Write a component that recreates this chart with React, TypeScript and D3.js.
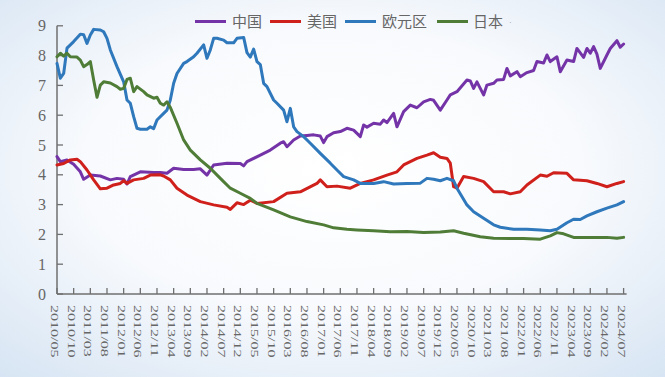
import React from "react";
import * as d3 from "d3";

const yTicks = [0, 1, 2, 3, 4, 5, 6, 7, 8, 9];
const xTickLabels = [
  "2010/05", "2010/10", "2011/03", "2011/08", "2012/01", "2012/06", "2012/11",
  "2013/04", "2013/09", "2014/02", "2014/07", "2014/12", "2015/05", "2015/10",
  "2016/03", "2016/08", "2017/01", "2017/06", "2017/11", "2018/04", "2018/09",
  "2019/02", "2019/07", "2019/12", "2020/05", "2020/10", "2021/03", "2021/08",
  "2022/01", "2022/06", "2022/11", "2023/04", "2023/09", "2024/02", "2024/07",
];

const seriesNames = ["中国", "美国", "欧元区", "日本"];
const seriesColors = ["#7434a8", "#d0201b", "#2e78bb", "#4f7d37"];

const chinaSeries: [string, number][] = [
  ["2010/05", 4.61], ["2010/06", 4.44], ["2010/08", 4.5], ["2010/10", 4.35], ["2010/12", 4.1],
  ["2011/01", 3.85], ["2011/03", 3.99], ["2011/06", 3.96], ["2011/09", 3.83], ["2011/11", 3.88],
  ["2012/01", 3.85], ["2012/02", 3.69], ["2012/03", 3.94], ["2012/06", 4.1], ["2012/10", 4.08],
  ["2012/12", 4.08], ["2013/02", 4.05], ["2013/04", 4.22], ["2013/07", 4.18], ["2013/10", 4.18],
  ["2013/12", 4.2], ["2014/02", 3.99], ["2014/04", 4.33], ["2014/08", 4.39], ["2014/12", 4.38],
  ["2015/01", 4.3], ["2015/02", 4.44], ["2015/06", 4.66], ["2015/09", 4.83], ["2015/12", 5.06],
  ["2016/01", 5.11], ["2016/02", 4.94], ["2016/04", 5.17], ["2016/06", 5.3], ["2016/08", 5.32],
  ["2016/10", 5.34], ["2016/12", 5.3], ["2017/01", 5.08], ["2017/02", 5.28], ["2017/04", 5.41],
  ["2017/06", 5.45], ["2017/08", 5.56], ["2017/10", 5.5], ["2017/12", 5.28], ["2018/01", 5.67],
  ["2018/02", 5.6], ["2018/04", 5.73], ["2018/06", 5.7], ["2018/07", 5.84], ["2018/08", 5.75],
  ["2018/10", 6.06], ["2018/11", 5.61], ["2019/01", 6.12], ["2019/03", 6.34], ["2019/05", 6.25],
  ["2019/07", 6.45], ["2019/09", 6.53], ["2019/10", 6.5], ["2019/12", 6.17], ["2020/02", 6.51],
  ["2020/03", 6.68], ["2020/05", 6.79], ["2020/08", 7.18], ["2020/09", 7.15], ["2020/10", 6.9],
  ["2020/11", 7.12], ["2021/01", 6.68], ["2021/02", 7.01], ["2021/04", 7.07], ["2021/05", 7.18],
  ["2021/07", 7.2], ["2021/08", 7.57], ["2021/09", 7.32], ["2021/11", 7.46], ["2021/12", 7.29],
  ["2022/02", 7.43], ["2022/04", 7.5], ["2022/05", 7.8], ["2022/07", 7.75], ["2022/08", 8.02],
  ["2022/09", 7.8], ["2022/11", 7.96], ["2022/12", 7.46], ["2023/02", 7.85], ["2023/04", 7.8],
  ["2023/05", 8.24], ["2023/07", 7.94], ["2023/08", 8.24], ["2023/09", 8.08], ["2023/10", 8.3],
  ["2023/11", 8.05], ["2023/12", 7.57], ["2024/02", 8.02], ["2024/03", 8.24], ["2024/05", 8.5],
  ["2024/06", 8.28], ["2024/07", 8.39],
];

const usSeries: [string, number][] = [
  ["2010/05", 4.33], ["2010/07", 4.38], ["2010/09", 4.5], ["2010/11", 4.52], ["2010/12", 4.44],
  ["2011/02", 4.16], ["2011/04", 3.83], ["2011/06", 3.53], ["2011/08", 3.55], ["2011/10", 3.66],
  ["2011/12", 3.71], ["2012/01", 3.8], ["2012/02", 3.71], ["2012/04", 3.83], ["2012/07", 3.88],
  ["2012/09", 3.99], ["2012/12", 4.0], ["2013/01", 3.96], ["2013/03", 3.83], ["2013/05", 3.55],
  ["2013/08", 3.32], ["2013/12", 3.1], ["2014/04", 2.99], ["2014/08", 2.91], ["2014/09", 2.84],
  ["2014/11", 3.06], ["2015/01", 3.0], ["2015/03", 3.15], ["2015/05", 3.04], ["2015/10", 3.1],
  ["2016/02", 3.38], ["2016/06", 3.43], ["2016/11", 3.71], ["2016/12", 3.83], ["2017/02", 3.6],
  ["2017/05", 3.62], ["2017/09", 3.55], ["2017/12", 3.71], ["2018/04", 3.83], ["2018/08", 3.99],
  ["2018/11", 4.1], ["2019/01", 4.33], ["2019/05", 4.55], ["2019/08", 4.66], ["2019/10", 4.74],
  ["2019/12", 4.59], ["2020/02", 4.55], ["2020/03", 4.39], ["2020/04", 3.6], ["2020/05", 3.55],
  ["2020/07", 3.94], ["2020/10", 3.88], ["2021/01", 3.77], ["2021/04", 3.43], ["2021/07", 3.43],
  ["2021/09", 3.36], ["2021/12", 3.43], ["2022/02", 3.66], ["2022/06", 3.99], ["2022/08", 3.95],
  ["2022/10", 4.07], ["2023/02", 4.05], ["2023/04", 3.83], ["2023/08", 3.8], ["2023/11", 3.71],
  ["2024/02", 3.6], ["2024/05", 3.71], ["2024/07", 3.77],
];

const euroSeries: [string, number][] = [
  ["2010/05", 7.74], ["2010/06", 7.24], ["2010/07", 7.4], ["2010/08", 8.25], ["2010/10", 8.47],
  ["2010/12", 8.72], ["2011/01", 8.7], ["2011/02", 8.41], ["2011/03", 8.69], ["2011/04", 8.88],
  ["2011/06", 8.86], ["2011/07", 8.8], ["2011/08", 8.58], ["2011/09", 8.19], ["2011/11", 7.63],
  ["2012/01", 7.12], ["2012/02", 6.51], ["2012/03", 6.4], ["2012/04", 5.95], ["2012/05", 5.56],
  ["2012/06", 5.53], ["2012/08", 5.53], ["2012/09", 5.61], ["2012/10", 5.55], ["2012/11", 5.84],
  ["2013/01", 6.06], ["2013/02", 6.17], ["2013/03", 6.51], ["2013/04", 7.07], ["2013/05", 7.4],
  ["2013/07", 7.74], ["2013/08", 7.8], ["2013/10", 7.96], ["2013/11", 8.08], ["2014/01", 8.36],
  ["2014/02", 7.91], ["2014/03", 8.19], ["2014/04", 8.58], ["2014/05", 8.58], ["2014/07", 8.52],
  ["2014/08", 8.43], ["2014/10", 8.43], ["2014/11", 8.58], ["2015/01", 8.61], ["2015/02", 8.1],
  ["2015/03", 7.95], ["2015/04", 8.22], ["2015/05", 7.8], ["2015/06", 7.7], ["2015/07", 7.07],
  ["2015/08", 6.96], ["2015/10", 6.51], ["2015/11", 6.4], ["2016/01", 6.17], ["2016/02", 5.78],
  ["2016/03", 6.23], ["2016/04", 5.61], ["2016/05", 5.45], ["2016/07", 5.28], ["2016/09", 5.06],
  ["2016/12", 4.72], ["2017/03", 4.39], ["2017/05", 4.16], ["2017/07", 3.94], ["2017/10", 3.83],
  ["2017/12", 3.71], ["2018/04", 3.71], ["2018/07", 3.77], ["2018/10", 3.69], ["2019/02", 3.71],
  ["2019/06", 3.72], ["2019/08", 3.88], ["2019/10", 3.85], ["2019/12", 3.8], ["2020/02", 3.88],
  ["2020/04", 3.8], ["2020/05", 3.55], ["2020/08", 2.99], ["2020/10", 2.76], ["2021/01", 2.54],
  ["2021/04", 2.32], ["2021/06", 2.24], ["2021/10", 2.17], ["2022/02", 2.17], ["2022/06", 2.15],
  ["2022/09", 2.12], ["2022/11", 2.17], ["2023/02", 2.39], ["2023/04", 2.51], ["2023/06", 2.5],
  ["2023/08", 2.62], ["2023/11", 2.76], ["2024/02", 2.88], ["2024/05", 2.99], ["2024/07", 3.1],
];

const japanSeries: [string, number][] = [
  ["2010/05", 7.96], ["2010/06", 8.08], ["2010/07", 7.98], ["2010/08", 8.08], ["2010/09", 7.96],
  ["2010/11", 7.95], ["2010/12", 7.85], ["2011/01", 7.63], ["2011/02", 7.7], ["2011/03", 7.8],
  ["2011/04", 7.18], ["2011/05", 6.6], ["2011/06", 7.01], ["2011/07", 7.12], ["2011/09", 7.08],
  ["2011/11", 6.96], ["2011/12", 6.87], ["2012/01", 6.9], ["2012/02", 7.2], ["2012/03", 7.24],
  ["2012/04", 6.79], ["2012/05", 6.96], ["2012/07", 6.79], ["2012/08", 6.68], ["2012/10", 6.57],
  ["2012/11", 6.6], ["2012/12", 6.4], ["2013/01", 6.34], ["2013/02", 6.45], ["2013/03", 6.26],
  ["2013/05", 5.73], ["2013/07", 5.17], ["2013/09", 4.83], ["2013/12", 4.5], ["2014/03", 4.22],
  ["2014/06", 3.88], ["2014/09", 3.55], ["2014/12", 3.38], ["2015/03", 3.21], ["2015/05", 3.04],
  ["2015/10", 2.82], ["2016/03", 2.59], ["2016/08", 2.43], ["2017/01", 2.32], ["2017/04", 2.22],
  ["2017/08", 2.17], ["2017/11", 2.15], ["2018/04", 2.12], ["2018/09", 2.09], ["2019/02", 2.1],
  ["2019/07", 2.06], ["2019/12", 2.08], ["2020/04", 2.12], ["2020/07", 2.04], ["2020/12", 1.92],
  ["2021/04", 1.87], ["2022/01", 1.86], ["2022/06", 1.84], ["2022/09", 1.95], ["2022/11", 2.06],
  ["2023/01", 2.02], ["2023/04", 1.9], ["2023/09", 1.9], ["2024/02", 1.9], ["2024/05", 1.87],
  ["2024/07", 1.9],
];

const allSeries = [chinaSeries, usSeries, euroSeries, japanSeries];

function monthIndex(s: string): number {
  const [yy, mm] = s.split("/").map(Number);
  return (yy - 2010) * 12 + (mm - 5);
}

export default function App() {
  const W = 665;
  const H = 377;
  const left = 57;
  const right = 623.6;
  const top = 25.8;
  const bottom = 294;

  const x = d3
    .scaleLinear()
    .domain([monthIndex(xTickLabels[0]), monthIndex(xTickLabels[xTickLabels.length - 1])])
    .range([left, right]);
  const y = d3.scaleLinear().domain([0, 9]).range([bottom, top]);

  const line = d3
    .line<[string, number]>()
    .x((d) => x(monthIndex(d[0])))
    .y((d) => y(d[1]));

  const axisColor = "#6f6f6f";
  const textColor = "#666";

  const legendItems = [
    { lx: 195, tx: 232 },
    { lx: 270, tx: 307 },
    { lx: 345, tx: 382 },
    { lx: 437, tx: 473 },
  ];

  return (
    <svg
      width={W}
      height={H}
      style={{ position: "absolute", left: 0, top: 0 }}
      xmlns="http://www.w3.org/2000/svg"
    >
      <defs>
        <radialGradient id="bg" cx="50%" cy="45%" r="75%">
          <stop offset="0%" stopColor="#ffffff" />
          <stop offset="50%" stopColor="#f8fafd" />
          <stop offset="100%" stopColor="#d6e4f3" />
        </radialGradient>
      </defs>
      <rect x={0} y={0} width={W} height={H} fill="url(#bg)" />

      {/* legend */}
      {seriesNames.map((name, i) => (
        <g key={name}>
          <line
            x1={legendItems[i].lx}
            x2={legendItems[i].lx + 31}
            y1={21.5}
            y2={21.5}
            stroke={seriesColors[i]}
            strokeWidth={3}
          />
          <text
            x={legendItems[i].tx}
            y={27}
            fontFamily="'Noto Sans CJK SC', sans-serif"
            fontSize={15}
            fill={textColor}
          >
            {name}
          </text>
        </g>
      ))}
      <text x={509} y={25} fontSize={8} fill="#999" fontFamily="sans-serif">·</text>

      {/* y axis */}
      <line x1={left} x2={left} y1={top} y2={bottom} stroke={axisColor} strokeWidth={1.5} />
      {yTicks.map((t) => (
        <g key={t}>
          <line x1={left} x2={left + 6} y1={y(t)} y2={y(t)} stroke={axisColor} strokeWidth={1.3} />
          <text
            x={46}
            y={y(t)}
            dy="0.35em"
            textAnchor="end"
            fontFamily="'Liberation Serif', 'Times New Roman', serif"
            fontSize={16}
            fill={textColor}
          >
            {t}
          </text>
        </g>
      ))}

      {/* x axis */}
      <line x1={left} x2={right + 3} y1={bottom} y2={bottom} stroke={axisColor} strokeWidth={1.5} />
      {xTickLabels.map((lab) => {
        const tx = x(monthIndex(lab));
        return (
          <g key={lab}>
            <line x1={tx} x2={tx} y1={bottom} y2={bottom - 6} stroke={axisColor} strokeWidth={1.3} />
            <text
              transform={`translate(${tx - 2},${305}) rotate(90) scale(1,0.7)`}
              dy="0.35em"
              fontFamily="'Liberation Serif', 'Times New Roman', serif"
              fontSize={16}
              fill={textColor}
            >
              {lab}
            </text>
          </g>
        );
      })}

      {/* series lines */}
      {allSeries.map((s, i) => (
        <path
          key={seriesNames[i]}
          d={line(s) || ""}
          fill="none"
          stroke={seriesColors[i]}
          strokeWidth={3}
          strokeLinejoin="round"
          strokeLinecap="round"
        />
      ))}
    </svg>
  );
}
